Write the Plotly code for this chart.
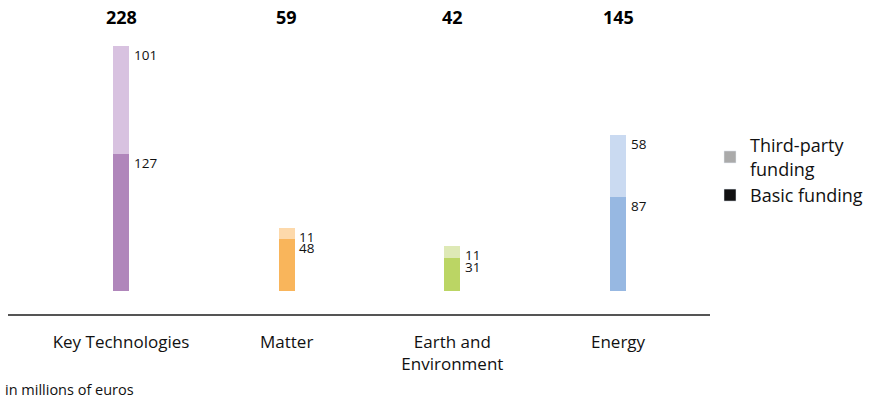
import plotly.graph_objects as go

# Funding per research field, in millions of euros
categories = ["Key Technologies", "Matter", "Earth and<br>Environment", "Energy"]
basic_funding = [127, 48, 31, 87]
third_party = [101, 11, 11, 58]
totals = [228, 59, 42, 145]

basic_colors = ["#b086bb", "#f9b55b", "#bbd564", "#97b8e2"]
third_colors = ["#d8c2e0", "#fdd9ab", "#dee9b6", "#cadaf1"]

FONT = "Open Sans"
xs = list(range(len(categories)))

fig = go.Figure()

fig.add_trace(go.Bar(
    x=xs, y=basic_funding, width=0.097,
    marker=dict(color=basic_colors, line=dict(width=0)),
    showlegend=False, hoverinfo="skip",
))
fig.add_trace(go.Bar(
    x=xs, y=third_party, width=0.097,
    marker=dict(color=third_colors, line=dict(width=0)),
    showlegend=False, hoverinfo="skip",
))

# legend entries (gray / black swatches)
fig.add_trace(go.Bar(x=[None], y=[None], name="Third-party<br>funding",
                     marker_color="#aaaaaa"))
fig.add_trace(go.Bar(x=[None], y=[None], name="Basic funding",
                     marker_color="#111111"))

# segment labels to the right of each bar
for i in xs:
    fig.add_annotation(x=i + 0.065, y=basic_funding[i] + third_party[i],
                       text=str(third_party[i]), showarrow=False,
                       xanchor="left", yanchor="top", yshift=2,
                       font=dict(size=13.5, color="#111"))
    fig.add_annotation(x=i + 0.065, y=basic_funding[i],
                       text=str(basic_funding[i]), showarrow=False,
                       xanchor="left", yanchor="top", yshift=2,
                       font=dict(size=13.5, color="#111"))
    # totals on top
    fig.add_annotation(x=i, y=255, text="<b>%d</b>" % totals[i],
                       showarrow=False, xanchor="center", yanchor="middle",
                       font=dict(size=18, color="#000"))

fig.add_annotation(xref="paper", yref="paper", x=0, y=-0.243, xshift=-5,
                   text="in millions of euros", showarrow=False,
                   xanchor="left", yanchor="middle",
                   font=dict(size=14.5, color="#111"))

fig.update_layout(
    barmode="stack",
    width=878, height=398,
    margin=dict(l=8, r=168, t=5, b=84),
    paper_bgcolor="white", plot_bgcolor="white",
    font=dict(family=FONT, size=13, color="#111"),
    xaxis=dict(range=[-0.682, 3.555], tickvals=xs, ticktext=categories,
               showline=True, linecolor="#555", linewidth=1.5,
               showgrid=False, zeroline=False, ticks="",
               ticklabelstandoff=12,
               tickfont=dict(size=17, color="#111")),
    yaxis=dict(range=[-21.4, 266], visible=False, showgrid=False,
               zeroline=False),
    legend=dict(x=1.0, y=0.605, xanchor="left", yanchor="top",
                traceorder="normal", font=dict(size=18, color="#111"),
                itemwidth=30, tracegroupgap=3,
                bgcolor="rgba(0,0,0,0)"),
    showlegend=True,
)

# remove the page's default body margin so the figure sits at the corner
fig.write_html("out.html", config={"displayModeBar": False},
               post_script="document.body.style.margin='0';")
